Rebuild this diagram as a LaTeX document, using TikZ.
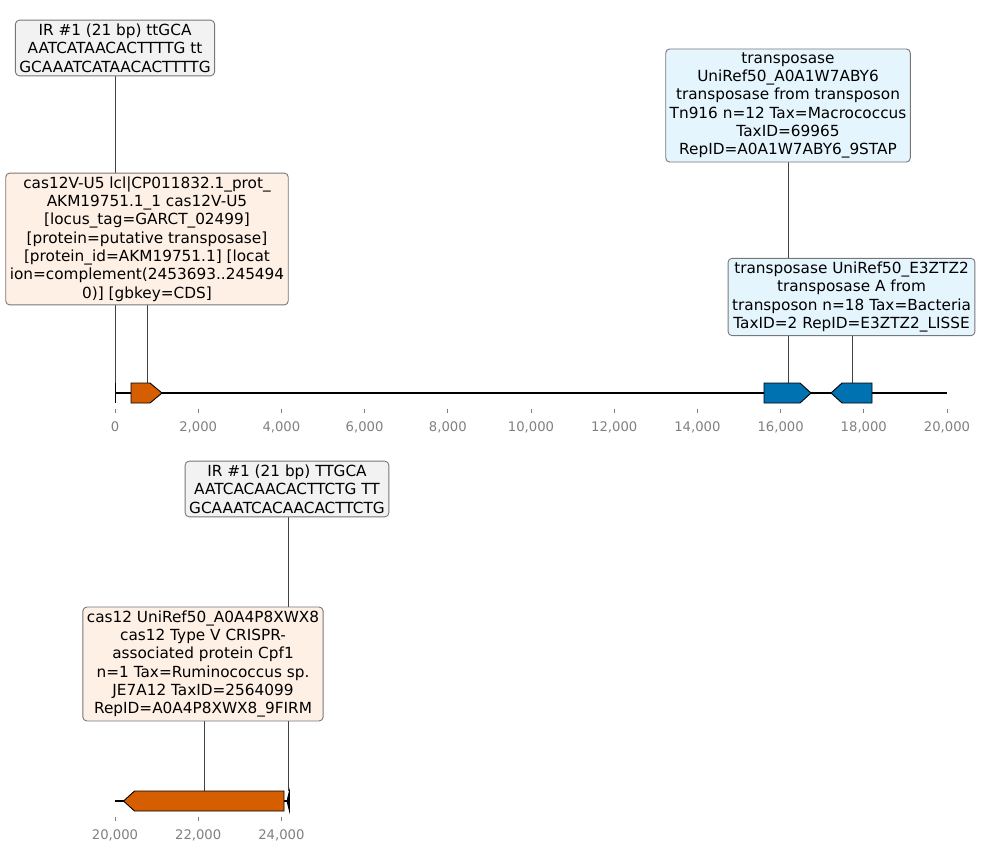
\documentclass[tikz,border=0pt]{standalone}
\usepackage{fontspec}
\setmainfont{DejaVu Sans}
\usetikzlibrary{backgrounds}
\definecolor{cdsorange}{HTML}{D55E00}
\definecolor{cdsblue}{HTML}{0072B2}
\definecolor{orangefill}{HTML}{FFF0E5}
\definecolor{bluefill}{HTML}{E5F5FE}
\definecolor{greyfill}{HTML}{F2F2F2}
\definecolor{boxedge}{HTML}{777777}
\definecolor{ticklabel}{HTML}{808080}
\begin{document}
\begin{tikzpicture}[x=1pt,y=-1pt,
  labelbox/.style={draw=boxedge, line width=0.9pt, rounded corners=4pt,
    align=center, inner xsep=4pt, inner ysep=3.6pt,
    font=\fontsize{15.3}{18.3}\selectfont},
  irbox/.style={labelbox, fill=greyfill},
  orbox/.style={labelbox, fill=orangefill},
  blbox/.style={labelbox, fill=bluefill},
  leader/.style={draw=black!75, line width=0.7pt},
  feature/.style={draw=black, line width=0.9pt},
  axisline/.style={draw=black, line width=1.5pt},
  tickmark/.style={draw=ticklabel, line width=0.8pt},
  ticktext/.style={text=ticklabel, font=\fontsize{13.2}{15}\selectfont, inner sep=0pt}]
\useasboundingbox (0,0) rectangle (981,854);

% ---------- upper track: 0 .. 20,000 ----------
\draw[axisline] (115,393) -- (947,393);
\foreach \x/\lab in {115/0,198.2/{2,000},281.4/{4,000},364.6/{6,000},447.8/{8,000},
  531/{10,000},614.2/{12,000},697.4/{14,000},780.6/{16,000},863.8/{18,000},947/{20,000}}{
  \draw[tickmark] (\x,409) -- (\x,413);
  \node[ticktext] at (\x,427) {\lab};
}

% features
\draw[feature] (115,383) -- (115,403);
\draw[feature, fill=cdsorange] (131,383) -- (150,383) -- (162,393) -- (150,403) -- (131,403) -- cycle;
\draw[feature, fill=cdsblue] (764,383) -- (800,383) -- (811,393) -- (800,403) -- (764,403) -- cycle;
\draw[feature, fill=cdsblue] (831,393) -- (842,383) -- (872,383) -- (872,403) -- (842,403) -- cycle;

\coordinate (ftIRa) at (115,383);
\coordinate (ftCasV) at (147,383);
\coordinate (ftTnA) at (788,383);
\coordinate (ftTnB) at (852,383);

% labels
\node[irbox] (irA) at (115,48) {IR \#1 (21 bp) ttGCA\\AATCATAACACTTTTG tt\\GCAAATCATAACACTTTTG};
\node[orbox] (casV) at (147,239) {cas12V-U5 lcl|CP011832.1\_prot\_\\AKM19751.1\_1 cas12V-U5\\{[locus\_tag=GARCT\_02499]}\\{[protein=putative transposase]}\\{[protein\_id=AKM19751.1] [locat}\\ion=complement(2453693..245494\\0)] [gbkey=CDS]};
\node[blbox] (tnA) at (788,105.5) {transposase\\UniRef50\_A0A1W7ABY6\\transposase from transposon\\Tn916 n=12 Tax=Macrococcus\\TaxID=69965\\RepID=A0A1W7ABY6\_9STAP};
\node[blbox] (tnB) at (851.5,297) {transposase UniRef50\_E3ZTZ2\\transposase A from\\transposon n=18 Tax=Bacteria\\TaxID=2 RepID=E3ZTZ2\_LISSE};

\begin{scope}[on background layer]
  \draw[leader] (irA.south) -- (ftIRa);
  \draw[leader] (casV.south -| ftCasV) -- (ftCasV);
  \draw[leader] (tnA.south) -- (ftTnA);
  \draw[leader] (tnB.south -| ftTnB) -- (ftTnB);
\end{scope}

% ---------- lower track: 20,000 .. 24,200 ----------
\draw[axisline] (115,801) -- (289,801);
\foreach \x/\lab in {115/{20,000},198.2/{22,000},281.4/{24,000}}{
  \draw[tickmark] (\x,817) -- (\x,821);
  \node[ticktext] at (\x,835) {\lab};
}

\draw[feature, fill=cdsorange] (123.5,801) -- (134.5,791) -- (284,791) -- (284,811) -- (134.5,811) -- cycle;
\draw[feature, fill=black] (289.5,791) -- (287,801) -- (289.5,811) -- cycle;

\coordinate (ftIRb) at (288,791);
\coordinate (ftCas) at (204,791);

\node[irbox] (irB) at (287,489) {IR \#1 (21 bp) TTGCA\\AATCACAACACTTCTG TT\\GCAAATCACAACACTTCTG};
\node[orbox] (cas) at (203,664) {cas12 UniRef50\_A0A4P8XWX8\\cas12 Type V CRISPR-\\associated protein Cpf1\\n=1 Tax=Ruminococcus sp.\\JE7A12 TaxID=2564099\\RepID=A0A4P8XWX8\_9FIRM};

\begin{scope}[on background layer]
  \draw[leader] (irB.south -| ftIRb) -- (ftIRb);
  \draw[leader] (cas.south -| ftCas) -- (ftCas);
\end{scope}
\end{tikzpicture}
\end{document}
